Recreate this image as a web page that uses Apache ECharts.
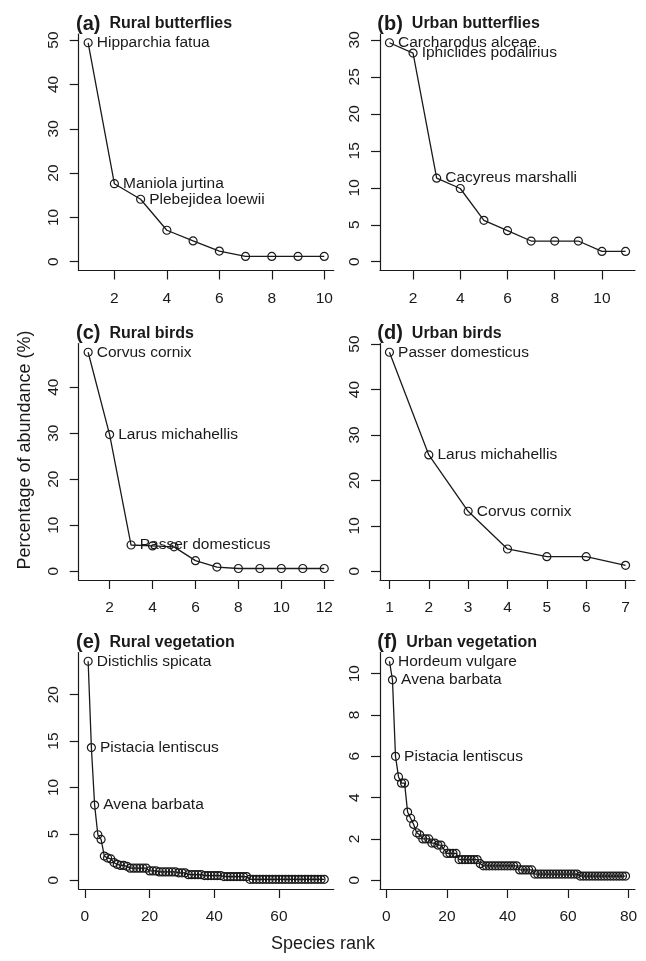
<!DOCTYPE html>
<html><head><meta charset="utf-8">
<script src="https://cdn.jsdelivr.net/npm/echarts@6/dist/echarts.min.js"></script>
<style>html,body{margin:0;padding:0;background:#fff}#c{width:646px;height:961px}</style>
</head><body><div id="c"></div>
<script>
// ---- data ----
const ruralButterflies = [49.4, 17.6, 14.1, 7.1, 4.7, 2.4, 1.2, 1.2, 1.2, 1.2];
const ruralButterflyNames = ['Hipparchia fatua', 'Maniola jurtina', 'Plebejidea loewii'];

const urbanButterflies = [29.6, 28.2, 11.3, 9.9, 5.6, 4.2, 2.8, 2.8, 2.8, 1.4, 1.4];
const urbanButterflyNames = ['Carcharodus alceae', 'Iphiclides podalirius', 'Cacyreus marshalli'];

const ruralBirds = [47.6, 29.7, 5.7, 5.5, 5.3, 2.3, 0.9, 0.6, 0.6, 0.6, 0.6, 0.6];
const ruralBirdNames = ['Corvus cornix', 'Larus michahellis', 'Passer domesticus'];

const urbanBirds = [48.2, 25.6, 13.2, 4.9, 3.2, 3.2, 1.3];
const urbanBirdNames = ['Passer domesticus', 'Larus michahellis', 'Corvus cornix'];

const ruralVegetation = [
  23.6, 14.3, 8.1, 4.9, 4.4, 2.6, 2.4, 2.3, 1.9, 1.7,
  1.6, 1.6, 1.5, 1.3, 1.3, 1.3, 1.3, 1.3, 1.3, 1.0,
  1.0, 1.0, 0.9, 0.9, 0.9, 0.9, 0.9, 0.9, 0.8, 0.8,
  0.8, 0.6, 0.6, 0.6, 0.6, 0.6, 0.5, 0.5, 0.5, 0.5,
  0.5, 0.5, 0.4, 0.4, 0.4, 0.4, 0.4, 0.4, 0.4, 0.4,
  0.1, 0.1, 0.1, 0.1, 0.1, 0.1, 0.1, 0.1, 0.1, 0.1,
  0.1, 0.1, 0.1, 0.1, 0.1, 0.1, 0.1, 0.1, 0.1, 0.1,
  0.1, 0.1, 0.1, 0.1
];
const ruralVegetationNames = ['Distichlis spicata', 'Pistacia lentiscus', 'Avena barbata'];

const urbanVegetation = [
  10.6, 9.7, 6.0, 5.0, 4.7, 4.7, 3.3, 3.0, 2.7, 2.3,
  2.2, 2.0, 2.0, 2.0, 1.8, 1.8, 1.7, 1.7, 1.5, 1.3,
  1.3, 1.3, 1.3, 1.0, 1.0, 1.0, 1.0, 1.0, 1.0, 1.0,
  0.8, 0.7, 0.7, 0.7, 0.7, 0.7, 0.7, 0.7, 0.7, 0.7,
  0.7, 0.7, 0.7, 0.5, 0.5, 0.5, 0.5, 0.5, 0.3, 0.3,
  0.3, 0.3, 0.3, 0.3, 0.3, 0.3, 0.3, 0.3, 0.3, 0.3,
  0.3, 0.3, 0.3, 0.2, 0.2, 0.2, 0.2, 0.2, 0.2, 0.2,
  0.2, 0.2, 0.2, 0.2, 0.2, 0.2, 0.2, 0.2, 0.2
];
const urbanVegetationNames = ['Hordeum vulgare', 'Avena barbata', 'Pistacia lentiscus'];

const panelLetters = ['(a)', '(b)', '(c)', '(d)', '(e)', '(f)'];
const panelTitles = ['Rural butterflies', 'Urban butterflies', 'Rural birds', 'Urban birds', 'Rural vegetation', 'Urban vegetation'];

const xTicksA = [2, 4, 6, 8, 10];
const xTicksB = [2, 4, 6, 8, 10];
const xTicksC = [2, 4, 6, 8, 10, 12];
const xTicksD = [1, 2, 3, 4, 5, 6, 7];
const xTicksE = [0, 20, 40, 60];
const xTicksF = [0, 20, 40, 60, 80];

const yTicksA = [0, 10, 20, 30, 40, 50];
const yTicksB = [0, 5, 10, 15, 20, 25, 30];
const yTicksC = [0, 10, 20, 30, 40];
const yTicksD = [0, 10, 20, 30, 40, 50];
const yTicksE = [0, 5, 10, 15, 20];
const yTicksF = [0, 2, 4, 6, 8, 10];

const yAxisTitle = 'Percentage of abundance (%)';
const xAxisTitle = 'Species rank';

// ---- layout ----
const panels = [
  { values: ruralButterflies, names: ruralButterflyNames, xt: xTicksA, yt: yTicksA },
  { values: urbanButterflies, names: urbanButterflyNames, xt: xTicksB, yt: yTicksB },
  { values: ruralBirds, names: ruralBirdNames, xt: xTicksC, yt: yTicksC },
  { values: urbanBirds, names: urbanBirdNames, xt: xTicksD, yt: yTicksD },
  { values: ruralVegetation, names: ruralVegetationNames, xt: xTicksE, yt: yTicksE },
  { values: urbanVegetation, names: urbanVegetationNames, xt: xTicksF, yt: yTicksF }
];
const colLeft = [78.7, 380];
const rowTop = [34, 343.5, 652.5];
const plotW = 255, plotH = 236.5;
const ink = '#1a1a1a';
const FONT = "'Liberation Sans', Arial, sans-serif";

const grid = [], xAxis = [], yAxis = [], series = [], title = [];
panels.forEach((p, i) => {
  const col = i % 2, row = Math.floor(i / 2);
  const n = p.values.length;
  const maxV = Math.max(...p.values);
  grid.push({ left: colLeft[col], top: rowTop[row], width: plotW, height: plotH, containLabel: false });
  const axisCommon = {
    axisLine: { show: true, onZero: false, lineStyle: { color: ink, width: 1.2 } },
    axisTick: { show: true, inside: false, length: 9, lineStyle: { color: ink, width: 1.2 } },
    splitLine: { show: false }
  };
  xAxis.push(Object.assign({
    type: 'value', gridIndex: i,
    min: 1 - 0.04 * (n - 1), max: n + 0.04 * (n - 1),
    axisLabel: { customValues: p.xt, color: ink, fontSize: 15.5, fontFamily: FONT, margin: 20, showMinLabel: true, showMaxLabel: true }
  }, axisCommon, { axisTick: Object.assign({}, axisCommon.axisTick, { customValues: p.xt }) }));
  yAxis.push(Object.assign({
    type: 'value', gridIndex: i,
    min: -0.04 * maxV, max: maxV * 1.04,
    axisLabel: { customValues: p.yt, color: ink, fontSize: 15.5, fontFamily: FONT, margin: 17, rotate: 90 }
  }, axisCommon, { axisTick: Object.assign({}, axisCommon.axisTick, { customValues: p.yt }) }));
  series.push({
    type: 'line', xAxisIndex: i, yAxisIndex: i,
    symbol: 'circle', symbolSize: 8,
    itemStyle: { color: 'rgba(0,0,0,0)', borderColor: ink, borderWidth: 1.2 },
    lineStyle: { color: ink, width: 1.3 },
    emphasis: { disabled: true },
    animation: false,
    data: p.values.map((v, k) => {
      const d = { value: [k + 1, v] };
      if (k < p.names.length) {
        d.label = { show: true, position: 'right', distance: 4, formatter: p.names[k], color: ink, fontSize: 15.5, fontFamily: FONT };
      }
      return d;
    })
  });
  title.push({
    left: colLeft[col] - 2.7, top: rowTop[row] - 22, padding: 0,
    text: '{p|' + panelLetters[i] + '}{t|' + panelTitles[i] + '}',
    textStyle: {
      rich: {
        p: { fontSize: 20, fontWeight: 'bold', color: ink, fontFamily: FONT, lineHeight: 24, padding: [0, 9, 0, 0] },
        t: { fontSize: 16, fontWeight: 'bold', color: ink, fontFamily: FONT, lineHeight: 24 }
      }
    }
  });
});

const chart = echarts.init(document.getElementById('c'), null, { renderer: 'canvas' });
chart.setOption({
  backgroundColor: '#fff',
  animation: false,
  title, grid, xAxis, yAxis, series,
  graphic: [
    { type: 'text', x: 25, y: 450, rotation: Math.PI / 2,
      style: { text: yAxisTitle, fill: ink, fontSize: 18, fontFamily: FONT, align: 'center', verticalAlign: 'middle' } },
    { type: 'text', x: 323, y: 944,
      style: { text: xAxisTitle, fill: ink, fontSize: 18, fontFamily: FONT, align: 'center', verticalAlign: 'middle' } }
  ]
});
</script></body></html>
